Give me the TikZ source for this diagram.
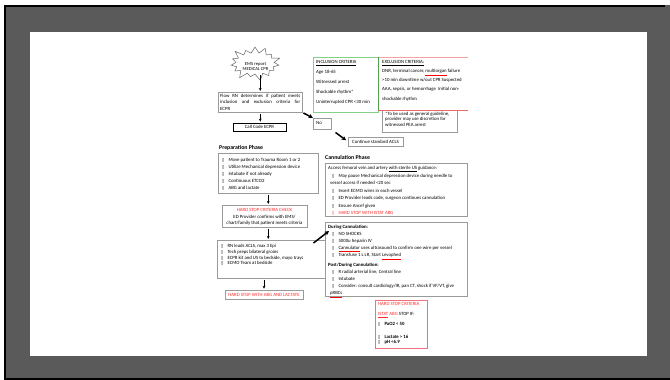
\documentclass[tikz,border=0pt]{standalone}
\usepackage{fontspec}
\setmainfont{Carlito}
\newfontfamily\dejavu{DejaVu Sans}
\usetikzlibrary{shapes.symbols,arrows.meta}
\definecolor{framegray}{HTML}{5A5A5A}
\definecolor{bxgray}{HTML}{9A9A9A}
\definecolor{incgreen}{HTML}{86CF86}
\definecolor{incdark}{HTML}{4FA04F}
\definecolor{excred}{HTML}{F4A3A3}
\definecolor{excred2}{HTML}{EE6A6A}
\definecolor{hsred}{HTML}{FF2B2B}
\definecolor{boxred}{HTML}{F07080}
\newcommand\cbx{{\dejavu\fontsize{4.2}{5}\selectfont ▯}\hspace{4pt}}
\newcommand\sq[1]{\textcolor{red}{\underline{\textcolor{black}{#1}}}}
\newcommand\fs[1]{\fontsize{4.8}{#1}\selectfont}
\begin{document}
\begin{tikzpicture}[x=1pt,y=-1pt,
  gbox/.style={draw=bxgray, line width=0.5pt, fill=white, inner sep=0pt, anchor=north west},
  tx/.style={inner sep=0pt, anchor=north west, align=left},
  arr/.style={-{Stealth[length=3pt,width=2.8pt]}, line width=0.8pt, shorten <=1pt, shorten >=1pt},
  thk/.style={-{Stealth[length=4.5pt,width=4.5pt]}, line width=1.5pt},
  ttl/.style={inner sep=0pt, anchor=west, font=\fontsize{5.8}{7}\selectfont\bfseries},
]
\useasboundingbox (0,0) rectangle (670,380);
\fill[white] (0,0) rectangle (670,380);
\fill[framegray] (4,5) rectangle (670,380);
\draw[black, line width=1.6pt] (5,380) -- (5,6) -- (665,6);
\draw[black, line width=1.6pt] (4,379) -- (670,379);
\fill[white] (30,32) rectangle (647,356);

% EMS starburst
\node[starburst, draw=gray!80!black, fill=white, line width=0.5pt,
  starburst points=15, starburst point height=8pt, inner xsep=13.5pt, inner ysep=7.5pt] (ems) at (255,63.5) {};
\node[inner sep=0pt, align=center, font=\fontsize{4.6}{5.4}\selectfont] (emstx) at (255.5,66.5) {EMS report\\MEDICAL CPR};

% Flow RN
\node[gbox, minimum width=84pt, minimum height=20pt] (flow) at (218,92) {};
\node[tx, text width=80pt, align=justify, font=\fs{6.6}] (flowtx) at (220,93.5)
  {Flow RN determines if patient meets\linebreak inclusion and exclusion criteria for\linebreak ECPR};

% Call code
\node[draw=black, line width=0.9pt, fill=white, minimum width=53pt, minimum height=8pt, inner sep=0pt,
  font=\fs{6}] (call) at (259.5,127) {Call Code ECPR};

% Inclusion
\node[gbox, draw=incgreen, line width=0.8pt, minimum width=65pt, minimum height=55pt] (incl) at (313,57) {};
\node[tx, font=\fs{10}] (incltx) at (316,60)
  {\underline{INCLUSION CRITERIA}\\Age 18-65\\Witnessed arrest\\Shockable rhythm*\\Uninterrupted CPR <30 min};

% Exclusion
\node[inner sep=0pt, anchor=north west, minimum width=90pt, minimum height=53pt] (excl) at (378,57) {};
\draw[excred, line width=0.8pt] (excl.north west) -- (excl.north east);
\draw[incdark, line width=0.9pt] (excl.north west) -- (excl.south west);
\node[tx, font=\fs{9.2}] (excltx) at (382,60)
  {\underline{EXCLUSION CRITERIA:}\\DNR, terminal cancer, \sq{multiorgan} failure\\>10 min downtime w/out CPR Suspected\\AAA, sepsis, or hemorrhage\ \ Initial non-\\shockable rhythm};

% Note
\node[gbox, minimum width=75pt, minimum height=22pt] (note) at (382,110) {};
\draw[excred2, line width=1pt] (excl.south west) -- (excl.south east);
\node[tx, font=\fs{5.5}] (notetx) at (385,111.5)
  {*To be used as general guideline,\\provider may use discretion for\\witnessed PEA arrest};

% No / ACLS
\node[gbox, minimum width=18pt, minimum height=11pt] (no) at (313,118) {};
\node[tx, font=\fs{6}] (notx) at (316,121) {No};
\node[draw=bxgray, line width=0.5pt, fill=white, minimum width=55pt, minimum height=9pt, inner sep=0pt,
  font=\fs{6}] (acls) at (375.5,141.5) {Continue standard ACLS};

% Preparation
\node[ttl] (preptl) at (219,148) {Preparation Phase};
\node[gbox, minimum width=100pt, minimum height=40pt] (prep) at (218,153) {};
\node[tx, font=\fs{7}] (preptx) at (222,157.5)
  {\cbx Move patient to Trauma Room 1 or 2\\\cbx Utilize Mechanical depression device\\\cbx Intubate if not already\\\cbx Continuous ETCO2\\\cbx ABG and lactate};

% Check
\node[gbox, minimum width=85pt, minimum height=22pt] (check) at (222,205) {};
\node[inner sep=0pt, align=center, font=\fs{6.5}] (checktx) at (264.5,217)
  {\textcolor{hsred}{HARD STOP CRITERIA CHECK}\\ED Provider confirms with EMS/\\chart/family that patient meets criteria};

% RN
\node[gbox, minimum width=108pt, minimum height=38pt] (rn) at (217,240) {};
\node[tx, font=\fs{5.8}] (rntx) at (221,244)
  {\cbx RN leads ACLS, max 3 Epi\\\cbx Tech preps bilateral groins\\\cbx ECPR kit and US to bedside, mayo trays\\\cbx ECMO Team at bedside};

% Hard stop ABG
\node[draw=bxgray, line width=0.5pt, fill=white, minimum width=78pt, minimum height=9pt, inner sep=0pt,
  font=\fs{6}, text=hsred] (hsabg) at (264,294.5) {HARD STOP WITH ABG AND LACTATE};

% Cannulation
\node[ttl] (canntl) at (325,157.5) {Cannulation Phase};
\node[gbox, minimum width=142pt, minimum height=53pt] (cann) at (325,163) {};
\node[tx, font=\fs{7.5}] (canntx) at (328,166)
  {Access femoral vein and artery \underline{with sterile US} guidance:\\
   \hspace*{4pt}\cbx May pause Mechanical depression device during needle to\\
   \hspace*{2pt}vessel access if needed <20 sec\\
   \hspace*{4pt}\cbx Insert ECMO wires in each vessel\\
   \hspace*{4pt}\cbx ED Provider leads code, surgeon continues cannulation\\
   \hspace*{4pt}\cbx Ensure Ancef given\\
   \hspace*{4pt}\textcolor{hsred}{\cbx HARD STOP WITH ISTAT ABG}};

% During
\node[gbox, minimum width=142pt, minimum height=74pt] (during) at (325,222) {};
\node[tx, font=\fs{7}] (duringtx) at (328,225)
  {\textbf{During Cannulation:}\\
   \hspace*{4pt}\cbx NO SHOCKS\\
   \hspace*{4pt}\cbx 5000u heparin IV\\
   \hspace*{4pt}\cbx \sq{Cannulator} uses ultrasound to confirm one wire per vessel\\
   \hspace*{4pt}\cbx Transfuse 1 L LR, Start \sq{Levophed}\\[3pt]
   \textbf{Post/During Cannulation:}\\
   \hspace*{4pt}\cbx R radial arterial line, Central line\\
   \hspace*{4pt}\cbx Intubate\\
   \hspace*{4pt}\cbx Consider: consult cardiology/IR, pan CT, shock if VF/VT, give\\
   \hspace*{2pt}\sq{pRBCs}};

% Hard stop criteria
\node[gbox, draw=boxred, line width=1pt, minimum width=52pt, minimum height=48pt] (hsc) at (375,300) {};
\node[tx, font=\fs{10}] (hsctx) at (378,302.5)
  {\textcolor{hsred}{HARD STOP CRITERIA}\\
   \textcolor{hsred}{\underline{ISTAT} ABG} STOP IF:\\
   \cbx\textbf{PaO2 < 50}\\[3pt]
   \cbx\textbf{Lactate > 16}\\[-5pt]
   \cbx\textbf{pH <6.9}};

% Arrows
\draw[arr] (ems.south -| flow.north) -- (flow.north);
\draw[arr] (flow.south) -- (flow.south |- call.north);
\draw[thk, shorten <=1pt] (flow.south east) -- (no.north west);
\draw[thk, shorten <=5pt, shorten >=2pt] (no.south east) -- (acls.west);
\draw[arr] (prep.south) -- (prep.south |- check.north);
\draw[arr] (prep.south |- check.south) -- (prep.south |- rn.north);
\draw[arr] (rn.south -| hsabg.north) -- (hsabg.north);
\draw[thk] ([xshift=-12pt,yshift=-3pt]rn.north east) -- ([xshift=4pt,yshift=-9pt]during.north west);
\end{tikzpicture}
\end{document}
